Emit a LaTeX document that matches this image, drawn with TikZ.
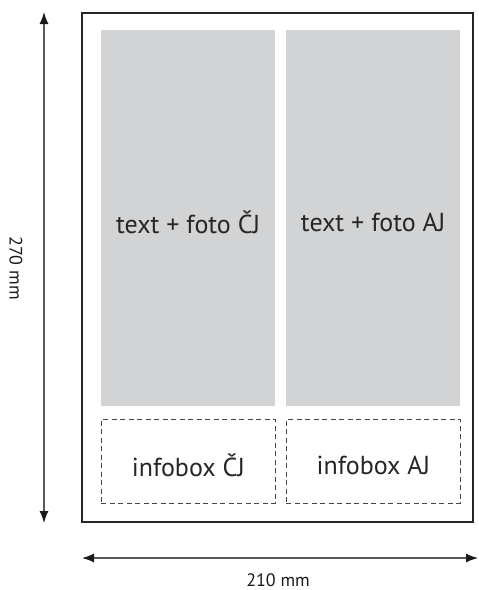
\documentclass[tikz,border=0pt]{standalone}
\usepackage{fontspec}
\setmainfont{PT Sans}
\usetikzlibrary{arrows.meta}
\definecolor{panelgray}{RGB}{209,211,212}
\definecolor{linegray}{RGB}{70,70,70}
\tikzset{
  panel/.style={fill=panelgray, draw=none},
  infobox/.style={draw=linegray, dashed, dash pattern=on 5pt off 3.5pt, line width=0.9pt},
  boxlabel/.style={font=\fontsize{26}{29}\selectfont, text=black!85},
  frame/.style={draw=black!85, line width=2.2pt},
  dimarrow/.style={draw=black!65, line width=1.3pt, {Latex[length=12pt,width=9pt,black!90]}-{Latex[length=12pt,width=9pt,black!90]}},
  dimlabel/.style={font=\fontsize{18}{21}\selectfont, text=black!90}
}
\begin{document}
\begin{tikzpicture}[x=1pt,y=-1pt]
\useasboundingbox (0,0) rectangle (479,590);
\draw[frame] (82,13) rectangle (473,522);
\node[panel, minimum width=174pt, minimum height=376pt, anchor=north west, inner sep=0pt] (p1) at (101,30) {};
\node[panel, minimum width=174pt, minimum height=376pt, anchor=north west, inner sep=0pt] (p2) at (286,30) {};
\node[boxlabel] (t1) at ([yshift=-4pt]p1.center) {text + foto ČJ};
\node[boxlabel] (t2) at ([yshift=-4pt]p2.center) {text + foto AJ};
\node[infobox, minimum width=174pt, minimum height=84pt, anchor=north west, inner sep=0pt] (i1) at (101,419) {};
\node[infobox, minimum width=174pt, minimum height=84pt, anchor=north west, inner sep=0pt] (i2) at (286,419) {};
\node[boxlabel] (it1) at ([yshift=-4pt]i1.center) {infobox ČJ};
\node[boxlabel] (it2) at ([yshift=-4pt]i2.center) {infobox AJ};
\coordinate (vt) at (44,12);
\coordinate (vb) at (44,523);
\draw[dimarrow] (vt) -- (vb);
\node[dimlabel, rotate=-90] (vl) at (16,268) {270 mm};
\coordinate (hl) at (82,558);
\coordinate (hr) at (478,558);
\draw[dimarrow] (hl) -- (hr);
\node[dimlabel] (hlab) at (278,580) {210 mm};
\end{tikzpicture}
\end{document}
